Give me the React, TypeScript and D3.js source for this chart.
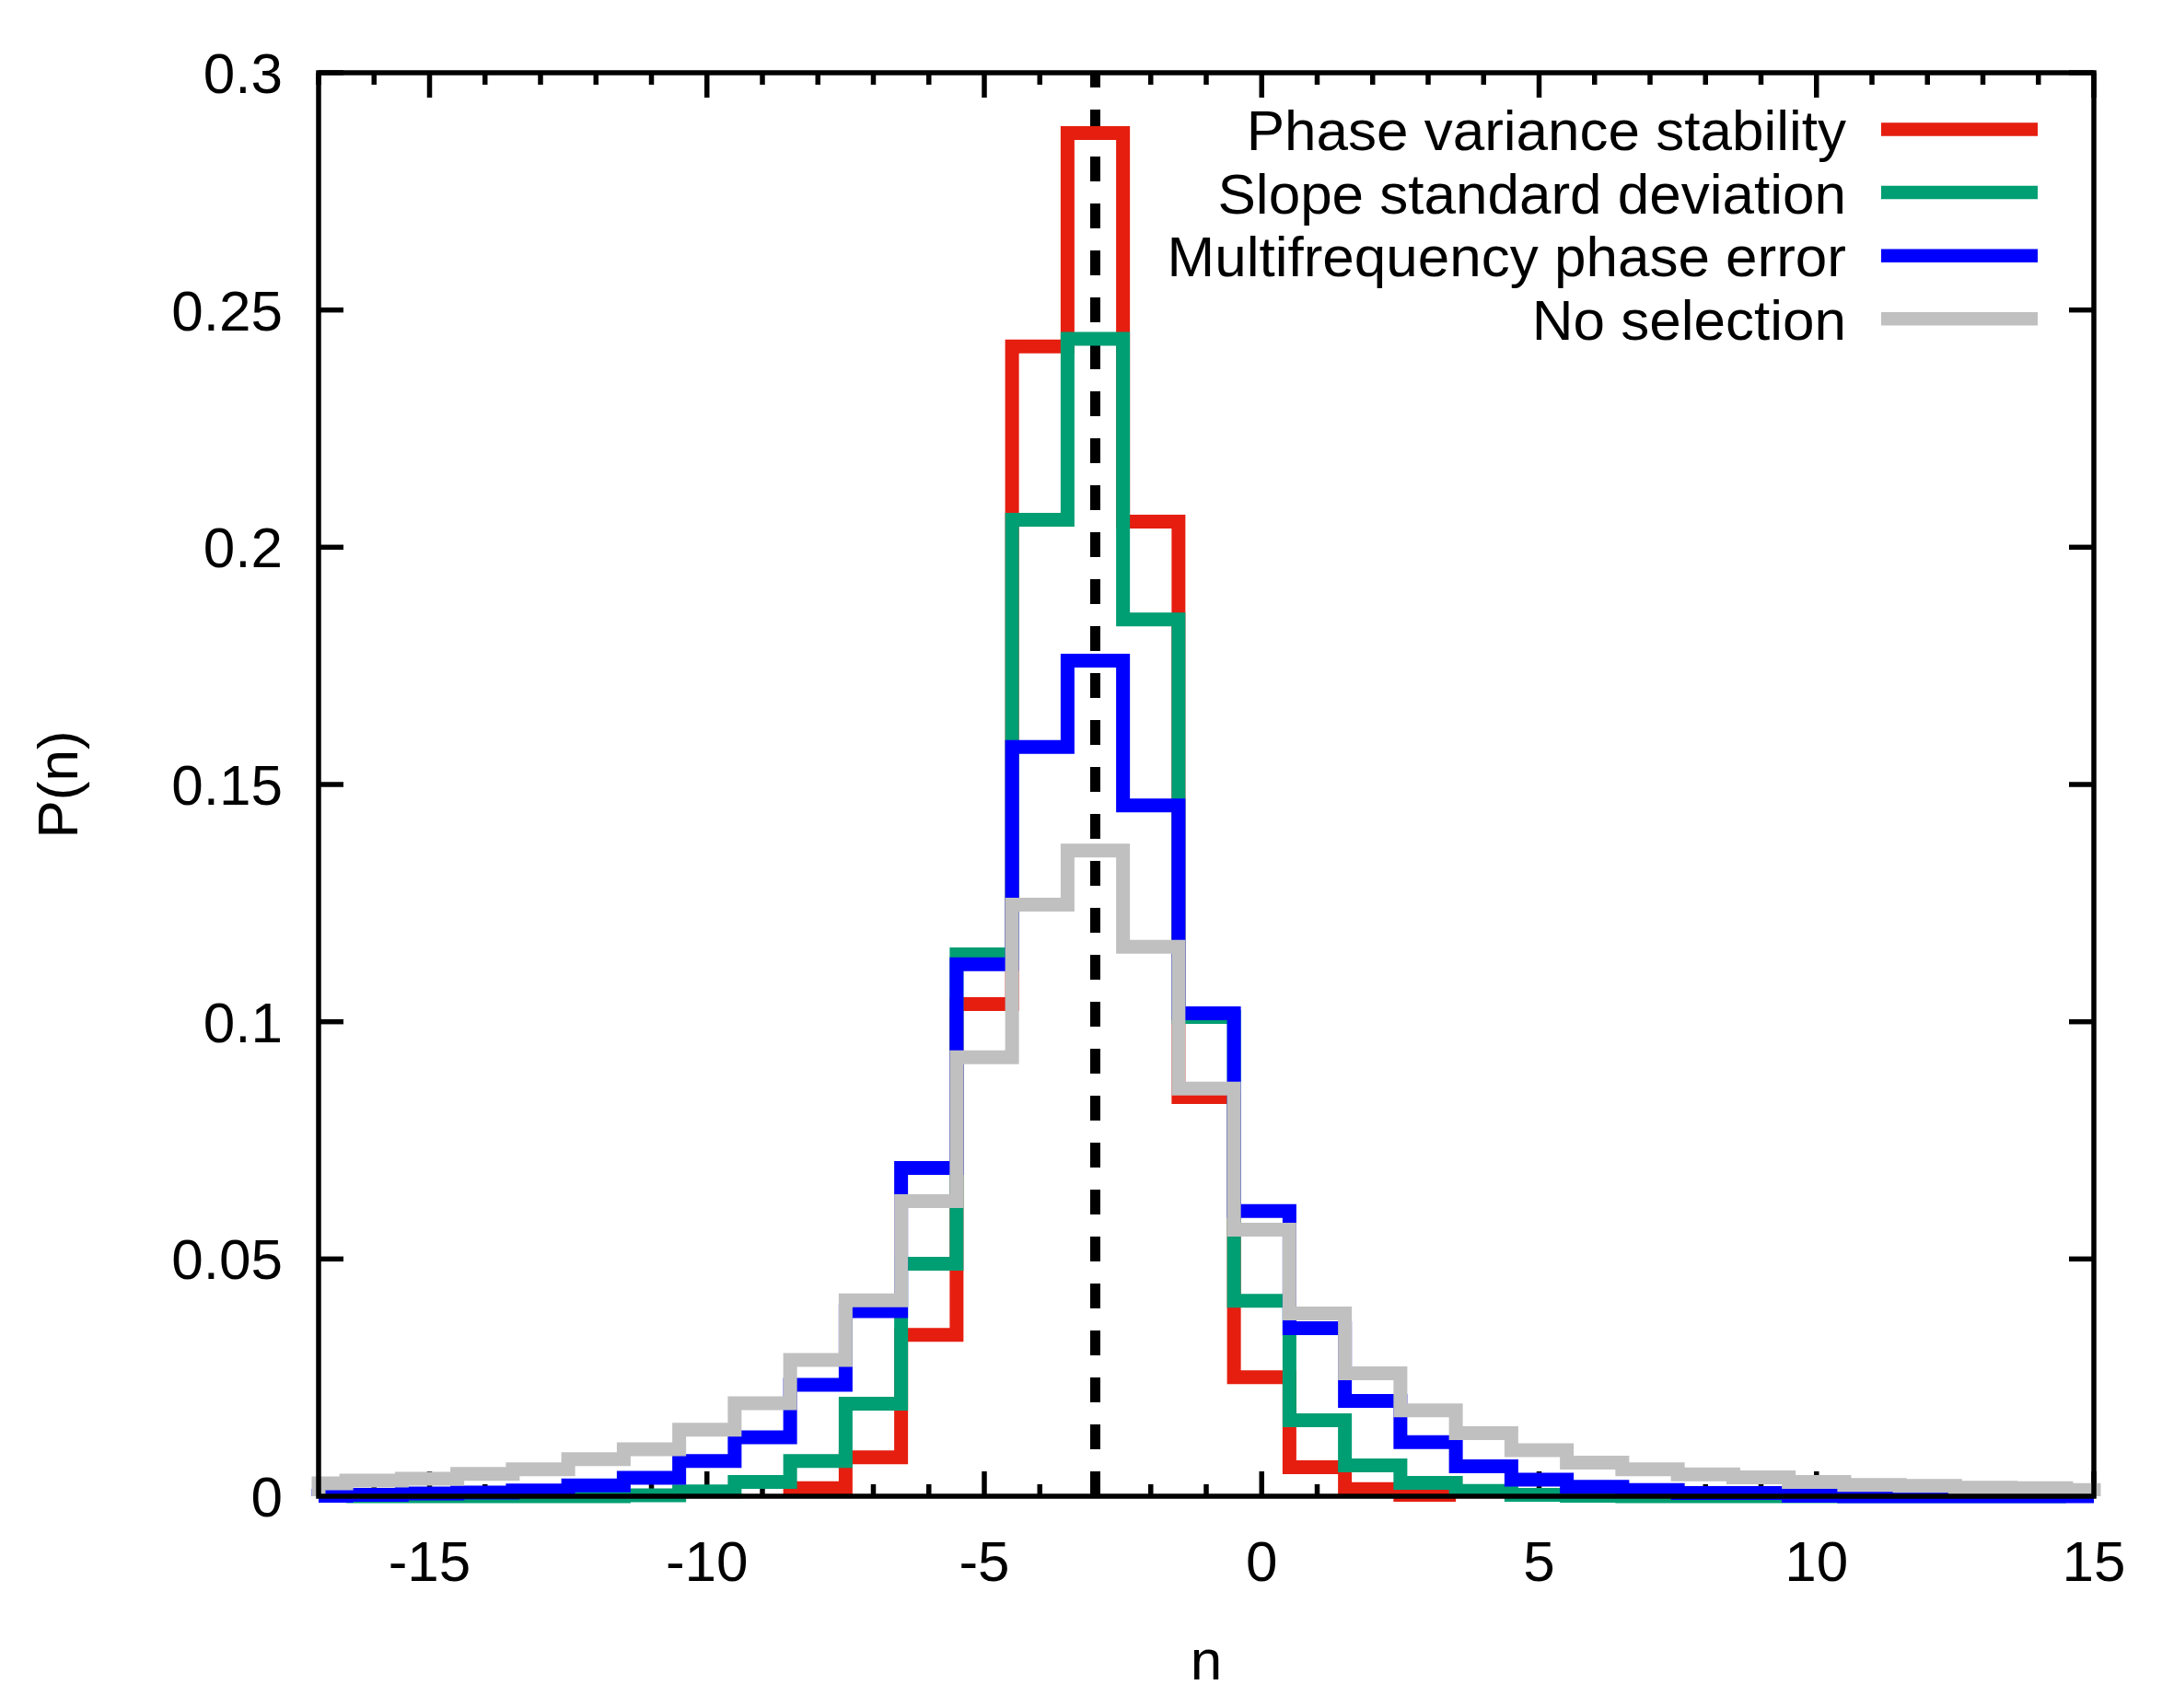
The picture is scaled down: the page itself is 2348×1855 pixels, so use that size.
import * as d3 from 'd3';

const W = 2348;
const H = 1855;
const FONT = "'Liberation Sans', Arial, Helvetica, sans-serif";

const xScale = d3.scaleLinear([-17, 15], [346, 2274]);
const yScale = d3.scaleLinear([0, 0.3], [1625, 79]);

// bin centres are integers n, each bin is one unit wide
const phaseVarStart = -8;
const phaseVarValues = [0.0017, 0.0082, 0.034, 0.1037, 0.2423, 0.2873, 0.2054, 0.0841, 0.0251, 0.0061, 0.0015, 0.0003];

const slopeStart = -16;
const slopeValues = [
  0, 0, 0, 0, 0, 0.0002, 0.001, 0.003, 0.0074, 0.0195, 0.049, 0.1142, 0.2058, 0.2439, 0.1848,
  0.101, 0.0412, 0.016, 0.0065, 0.0028, 0.0011, 0.0003, 0.0001, 0, 0, 0, 0, 0, 0, 0, 0,
];

const multiFreqStart = -17;
const multiFreqValues = [
  0.0001, 0.0003, 0.0006, 0.0008, 0.0012, 0.0023, 0.0039, 0.0074, 0.0124, 0.0235, 0.039, 0.0692,
  0.1121, 0.1579, 0.1761, 0.1456, 0.1018, 0.0601, 0.0354, 0.0201, 0.0114, 0.0063, 0.0035, 0.002,
  0.0013, 0.0007, 0.0007, 0.0001, 0, 0, 0, 0, 0,
];

const noSelStart = -17;
const noSelValues = [
  0.0027, 0.0033, 0.0037, 0.0047, 0.0057, 0.0078, 0.0099, 0.014, 0.0196, 0.0287, 0.0413, 0.0622,
  0.0925, 0.1247, 0.1361, 0.1158, 0.0859, 0.0562, 0.0385, 0.0259, 0.0181, 0.0133, 0.0097, 0.0071,
  0.0057, 0.0046, 0.004, 0.003, 0.0024, 0.0022, 0.0018, 0.0017, 0.0013,
];

const seriesNames = ['Phase variance stability', 'Slope standard deviation', 'Multifrequency phase error', 'No selection'];
const seriesColors = ['#e51e10', '#009e73', '#0000ff', '#c0c0c0'];
const seriesStarts = [phaseVarStart, slopeStart, multiFreqStart, noSelStart];
const seriesValues = [phaseVarValues, slopeValues, multiFreqValues, noSelValues];

const xMajorTicks = [-15, -10, -5, 0, 5, 10, 15];
const xMinorTicks = d3.range(-17, 16).filter(v => v % 5 !== 0);
const yTicks = [0, 0.05, 0.1, 0.15, 0.2, 0.25, 0.3];
const yTickLabels = ['0', '0.05', '0.1', '0.15', '0.2', '0.25', '0.3'];
const referenceN = -3;

const clampX = (v: number) => Math.max(-17, Math.min(15, v));

// histogram steps, dropping to zero at both ends
function stepPoints(start: number, values: number[]): [number, number][] {
  const pts: [number, number][] = [];
  pts.push([start - 0.5, 0]);
  values.forEach((v, i) => {
    const n = start + i;
    pts.push([n - 0.5, v]);
    pts.push([n + 0.5, v]);
  });
  pts.push([start + values.length - 0.5, 0]);
  return pts.map(([n, v]) => [clampX(n), v]);
}

const line = d3.line<[number, number]>()
  .x(d => xScale(d[0]))
  .y(d => yScale(d[1]));

export default function App() {
  const top = yScale(0.3);
  const bottom = yScale(0);
  const left = xScale(-17);
  const right = xScale(15);
  const tickW = 5.5;

  return (
    <svg width={W} height={H} viewBox={`0 0 ${W} ${H}`}
      style={{ position: 'absolute', left: 0, top: 0, background: '#fff' }}
      fontFamily={FONT}>
      <rect x={0} y={0} width={W} height={H} fill="#fff" />

      {/* ticks (behind the data) */}
      <g stroke="#000" strokeWidth={tickW}>
        {xMajorTicks.map(v => (
          <g key={`xM${v}`}>
            <line x1={xScale(v)} x2={xScale(v)} y1={bottom} y2={bottom - 27} />
            <line x1={xScale(v)} x2={xScale(v)} y1={top} y2={top + 27} />
          </g>
        ))}
        {xMinorTicks.map(v => (
          <g key={`xm${v}`}>
            <line x1={xScale(v)} x2={xScale(v)} y1={bottom} y2={bottom - 13} />
            <line x1={xScale(v)} x2={xScale(v)} y1={top} y2={top + 13} />
          </g>
        ))}
        {yTicks.map(v => (
          <g key={`y${v}`}>
            <line x1={left} x2={left + 27} y1={yScale(v)} y2={yScale(v)} />
            <line x1={right} x2={right - 27} y1={yScale(v)} y2={yScale(v)} />
          </g>
        ))}
      </g>

      {/* reference line */}
      <line x1={xScale(referenceN)} x2={xScale(referenceN)} y1={bottom} y2={top}
        stroke="#000" strokeWidth={11} strokeDasharray="27,24" />

      {/* histograms */}
      {seriesValues.map((vals, i) => (
        <path key={seriesNames[i]} d={line(stepPoints(seriesStarts[i], vals)) ?? ''}
          fill="none" stroke={seriesColors[i]} strokeWidth={15}
          strokeLinejoin="miter" strokeLinecap="butt" />
      ))}

      {/* border */}
      <rect x={left} y={top} width={right - left} height={bottom - top}
        fill="none" stroke="#000" strokeWidth={5.5} />

      {/* tick labels */}
      <g fontSize={62} fill="#000">
        {yTicks.map((v, i) => (
          <text key={`yl${v}`} x={307} y={yScale(v) + 22} textAnchor="end">{yTickLabels[i]}</text>
        ))}
        {xMajorTicks.map(v => (
          <text key={`xl${v}`} x={xScale(v)} y={1717} textAnchor="middle">{v}</text>
        ))}
      </g>

      {/* axis titles */}
      <text x={1310} y={1824} textAnchor="middle" fontSize={62}>n</text>
      <text transform={`translate(84, ${(top + bottom) / 2}) rotate(-90)`} textAnchor="middle" fontSize={62}>P(n)</text>

      {/* legend */}
      <g fontSize={62}>
        {seriesNames.map((name, i) => {
          const ly = 140.5 + i * 68.6;
          return (
            <g key={`lg${name}`}>
              <text x={2005} y={ly + 22.5} textAnchor="end">{name}</text>
              <line x1={2043} x2={2213} y1={ly} y2={ly} stroke={seriesColors[i]} strokeWidth={14.5} />
            </g>
          );
        })}
      </g>
    </svg>
  );
}
